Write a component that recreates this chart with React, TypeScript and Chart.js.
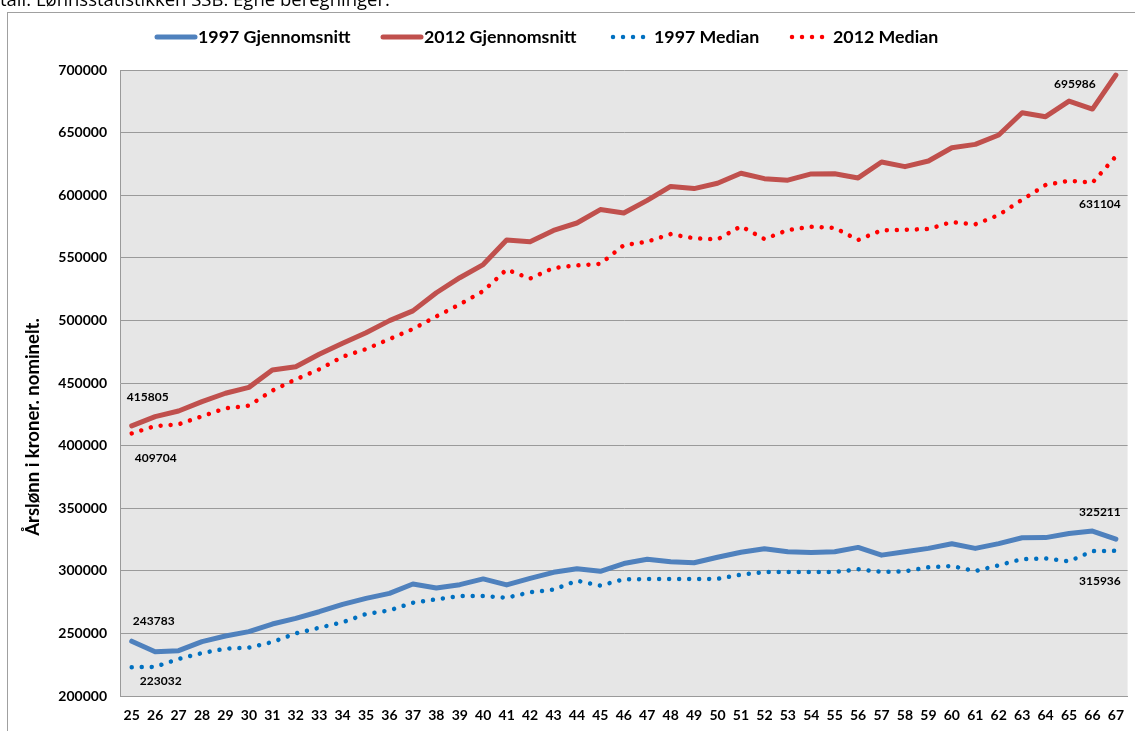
import React, { useEffect, useRef } from "react";
import { Chart, registerables } from "chart.js";

Chart.register(...registerables);

const W = 1135;
const H = 731;

const ages = [
  "25", "26", "27", "28", "29", "30", "31", "32", "33", "34", "35", "36", "37", "38", "39",
  "40", "41", "42", "43", "44", "45", "46", "47", "48", "49", "50", "51", "52", "53", "54",
  "55", "56", "57", "58", "59", "60", "61", "62", "63", "64", "65", "66", "67",
];

const avg1997 = [
  243783, 235400, 236200, 243400, 247900, 251400, 257500, 262000, 267300, 273200, 278000,
  282000, 289500, 286300, 288900, 293500, 288700, 294000, 298800, 301700, 299600, 305800,
  309200, 307200, 306400, 310800, 314800, 317600, 315300, 314700, 315200, 318700, 312500,
  315200, 317900, 321600, 317900, 321700, 326400, 326500, 329800, 331700, 325211,
];

const avg2012 = [
  415805, 423100, 427600, 435100, 441800, 446500, 460400, 463000, 472900, 481700, 490200,
  499800, 507600, 522100, 534100, 544600, 564200, 562900, 571900, 577800, 588500, 585800,
  595900, 607000, 605300, 609500, 617500, 613200, 612000, 617000, 617100, 613800, 626500,
  622800, 627300, 637900, 640600, 648100, 665900, 662700, 675200, 668800, 695986,
];

const med1997 = [
  223032, 223300, 229600, 234300, 237800, 238600, 243100, 250000, 254500, 258900, 265500,
  268400, 274500, 277200, 279900, 279900, 278500, 282800, 285000, 292100, 288200, 293200,
  293400, 293400, 293400, 293600, 296900, 299000, 299000, 299000, 299000, 301200, 299100,
  299600, 302800, 303800, 299800, 304400, 309400, 309800, 307600, 315700, 315936,
];

const med2012 = [
  409704, 415600, 417000, 423400, 429800, 431900, 443900, 452900, 460900, 471000, 477100,
  485100, 493100, 503200, 512800, 523400, 540700, 533400, 541900, 543900, 545200, 560100,
  562900, 568900, 565600, 564700, 575200, 565000, 572200, 574800, 573900, 564200, 572000,
  572400, 573000, 578600, 576700, 584200, 596400, 608100, 611600, 610000, 631104,
];

const seriesNames = ["1997 Gjennomsnitt", "2012 Gjennomsnitt", "1997 Median", "2012 Median"];
const yMin = 200000;
const yMax = 700000;
const yStep = 50000;
const yTitle = "Årslønn i kroner. nominelt.";
const sourceText = "tall: Lønnsstatistikken SSB. Egne beregninger.";

// styling / layout (not data)
const LABEL_FONT = "bold 12px Lato";
const LEGEND_FONT = "bold 17.8px Lato";
const TITLE_FONT = "bold 18.5px Lato";
const GRID = "#9a9a9a";
const legendX = [157, 383, 613, 792];
const legendY = 37;
const legendSample = 38;
// label offsets relative to first/last point: [dx, dy]
const firstOffsets = [[22, -20], [16, -29], [29, 14], [24, 25]];
const lastOffsets = [[-16, -27], [-41, 9], [-16, 30], [-16, 48]];

const decor = {
  id: "decor",
  beforeDraw(chart: any) {
    const { ctx, chartArea: a } = chart;
    ctx.save();
    ctx.fillStyle = "#fff";
    ctx.fillRect(0, 0, W, H);
    ctx.fillStyle = "#000";
    ctx.font = '18.5px "Open Sans"';
    ctx.textAlign = "left";
    ctx.textBaseline = "alphabetic";
    ctx.fillText(sourceText, 0, 6);
    ctx.fillStyle = "#fff";
    ctx.fillRect(8, 13, W, H);
    ctx.strokeStyle = "#a0a0a0";
    ctx.lineWidth = 1;
    ctx.strokeRect(7.5, 12.5, W + 20, H + 20);
    ctx.fillStyle = "#e6e6e6";
    ctx.fillRect(a.left, a.top, a.right - a.left, a.bottom - a.top);
    ctx.restore();
  },
  afterDraw(chart: any) {
    const { ctx } = chart;
    ctx.save();
    // legend
    chart.data.datasets.forEach((ds: any, i: number) => {
      const x0 = legendX[i];
      ctx.beginPath();
      ctx.strokeStyle = ds.borderColor;
      ctx.lineWidth = ds.borderWidth;
      ctx.lineCap = "round";
      ctx.setLineDash(ds.borderDash || []);
      ctx.moveTo(x0, legendY);
      ctx.lineTo(x0 + legendSample, legendY);
      ctx.stroke();
      ctx.setLineDash([]);
      ctx.fillStyle = "#000";
      ctx.font = LEGEND_FONT;
      ctx.textAlign = "left";
      ctx.textBaseline = "middle";
      ctx.fillText(ds.label, x0 + legendSample + 3, legendY);
    });
    // y title
    ctx.save();
    ctx.translate(33, 427);
    ctx.rotate(-Math.PI / 2);
    ctx.font = TITLE_FONT;
    ctx.textAlign = "center";
    ctx.textBaseline = "middle";
    ctx.fillStyle = "#000";
    ctx.fillText(yTitle, 0, 0);
    ctx.restore();
    // data labels
    ctx.font = LABEL_FONT;
    ctx.fillStyle = "#000";
    ctx.textAlign = "center";
    ctx.textBaseline = "middle";
    chart.data.datasets.forEach((ds: any, i: number) => {
      const pts = chart.getDatasetMeta(i).data;
      const first = pts[0];
      const last = pts[pts.length - 1];
      ctx.fillText(String(ds.data[0]), first.x + firstOffsets[i][0], first.y + firstOffsets[i][1]);
      ctx.fillText(
        String(ds.data[ds.data.length - 1]),
        last.x + lastOffsets[i][0],
        last.y + lastOffsets[i][1]
      );
    });
    ctx.restore();
  },
};

export default function App() {
  const ref = useRef<HTMLCanvasElement | null>(null);
  useEffect(() => {
    document.body.style.margin = "0";
    const canvas = ref.current;
    if (!canvas) return;
    const dotted = [0.01, 10];
    const chart = new Chart(canvas, {
      type: "line",
      data: {
        labels: ages,
        datasets: [
          {
            label: seriesNames[0],
            data: avg1997,
            borderColor: "#4F81BD",
            borderWidth: 5,
            borderCapStyle: "round",
            borderJoinStyle: "round",
          },
          {
            label: seriesNames[1],
            data: avg2012,
            borderColor: "#C0504D",
            borderWidth: 5,
            borderCapStyle: "round",
            borderJoinStyle: "round",
          },
          {
            label: seriesNames[2],
            data: med1997,
            borderColor: "#0070C0",
            borderWidth: 4.5,
            borderDash: dotted,
            borderCapStyle: "round",
            borderJoinStyle: "round",
          },
          {
            label: seriesNames[3],
            data: med2012,
            borderColor: "#FF0000",
            borderWidth: 4.5,
            borderDash: dotted,
            borderCapStyle: "round",
            borderJoinStyle: "round",
          },
        ],
      },
      options: {
        responsive: false,
        animation: false,
        devicePixelRatio: 1,
        layout: { padding: { left: 0, top: 70, right: 0, bottom: 0 } },
        elements: { point: { radius: 0 }, line: { tension: 0, fill: false } },
        plugins: {
          legend: { display: false },
          tooltip: { enabled: false },
          title: { display: false },
        },
        scales: {
          x: {
            type: "category",
            offset: true,
            grid: { display: false, drawTicks: false },
            border: { display: true, color: GRID },
            ticks: {
              color: "#000",
              font: { family: "Lato", weight: "bold", size: 14 },
              padding: 11,
              maxRotation: 0,
              autoSkip: false,
            },
            afterFit(s: any) {
              s.height = 35;
            },
          },
          y: {
            min: yMin,
            max: yMax,
            grid: { color: GRID, drawTicks: false },
            border: { display: true, color: GRID },
            ticks: {
              stepSize: yStep,
              color: "#000",
              padding: 13,
              font: { family: "Lato", weight: "bold", size: 14 },
              callback: (v: any) => String(v),
            },
            afterFit(s: any) {
              s.width = 120;
            },
          },
        },
      },
      plugins: [decor],
    } as any);
    return () => chart.destroy();
  }, []);
  return (
    <div style={{ width: W, height: H, overflow: "hidden" }}>
      <canvas ref={ref} width={W} height={H} style={{ display: "block" }} />
    </div>
  );
}
